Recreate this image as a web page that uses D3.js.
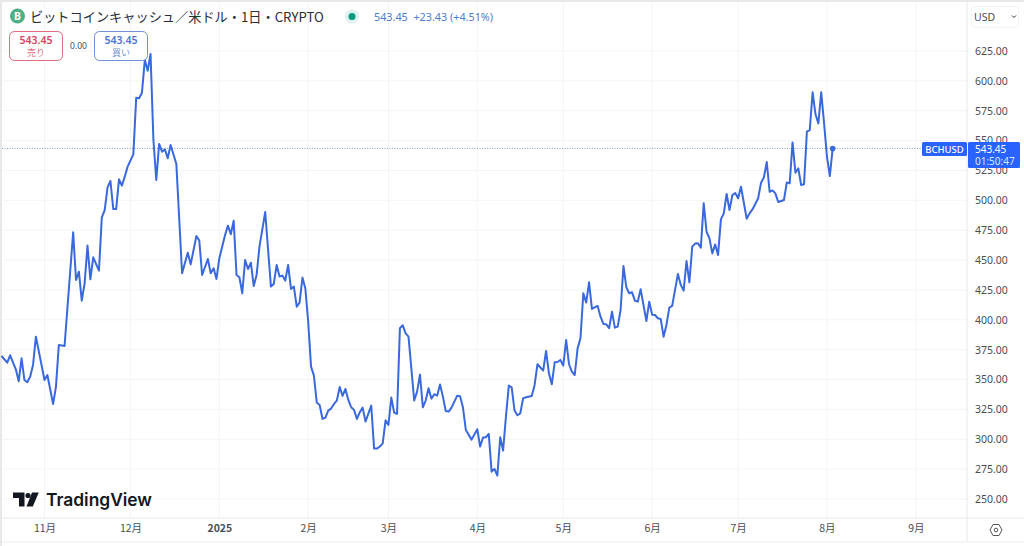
<!DOCTYPE html>
<html>
<head>
<meta charset="utf-8">
<script src="https://cdn.jsdelivr.net/npm/d3@7"></script>
<style>
	html, body { margin: 0; padding: 0; background: #fff; overflow: hidden; }
	svg { display: block; }
	text { font-family: "Noto Sans CJK JP", "Noto Sans", sans-serif; }
	.num { font-family: "Noto Sans", "Noto Sans CJK JP", sans-serif; }
</style>
</head>
<body>
<svg id="chart" width="1024" height="546"></svg>
<script>

// days counted from 2024-11-01, one entry for each turning point
var dayNumbers = [
	-15, -13, -12, -10, -9, -8, -7, -6, -5, -4, -3, 0, 1, 3, 4, 5, 7, 10, 11, 12, 13, 14, 15, 16, 17, 19,
	20, 21, 22, 23, 24, 25, 26, 27, 28, 29, 31, 32, 33, 34, 35, 36, 37, 38, 39, 40, 41, 42, 43, 44, 46,
	48, 50, 51, 53, 54, 55, 57, 58, 59, 60, 61, 63, 64, 65, 66, 67, 68, 69, 70, 71, 72, 73, 74, 75, 77,
	79, 80, 81, 82, 83, 84, 85, 86, 87, 88, 89, 90, 91, 92, 93, 94, 95, 96, 97, 98, 99, 100,
	101, 102, 103, 104, 105, 106, 107, 108, 109, 110, 111, 112, 114, 115, 116, 117, 118, 119, 120,
	121, 122, 123, 124, 125, 126, 127, 129, 130, 131, 132, 133, 134, 135, 136, 137, 138, 139, 140,
	141, 142, 144, 145, 146, 147, 149, 151, 152, 153, 154, 155, 156, 157, 158, 159, 160, 161, 162, 163,
	164, 165, 166, 167, 168, 170, 171, 172, 174, 175, 176, 177, 178, 179, 180, 181, 182, 183, 184, 185,
	186, 187, 188, 189, 190, 191, 192, 193, 194, 195, 196, 197, 198, 199, 200, 201, 202, 203, 204, 205,
	206, 207, 208, 210, 211, 212, 213, 214, 215, 216, 217, 218, 219, 221, 222, 223, 224, 225, 226, 227,
	228, 229, 230, 231, 232, 233, 234, 235, 236, 237, 238, 239, 240, 241, 242, 243, 245, 246, 247, 248,
	249, 250, 251, 252, 253, 254, 255, 256, 258, 259, 260, 261, 262, 263, 264, 265, 266, 267, 268, 269,
	270, 271, 272, 273, 274, 275
];

var prices = [
	369.7, 364.1, 370.3, 358.6, 348.5, 367.8, 349.6, 347.7, 352.4, 362.2, 385.9, 349.6, 353.8, 329.5, 344.1, 378.9, 378.1, 473.2, 433.3, 440.3, 416, 430.5, 462.1, 433.9, 452.3, 441.2,
	485.8, 491.9, 510.9, 516.2, 492.7, 492.7, 517.6, 512.3, 519.8, 528.2, 538.5, 585.9, 585.4, 590.1, 617.5, 608.5, 622.5, 550.5, 517, 547.2, 540.7, 542.7, 535.2, 546.3, 530.4,
	439, 456.2, 446.4, 470.2, 466.3, 437.5, 450.9, 438.9, 443.1, 434.2, 451.5, 471, 478.8, 471.6, 483, 437.5, 435.6, 422.2, 450.1, 442.5, 447.8, 428.3, 437.5, 461.2, 490.2,
	427.8, 430, 445.9, 436.2, 437, 432.8, 445.9, 425.8, 427.8, 411, 414.4, 435.3, 426.4, 398.5, 360.8, 353.3, 330.7, 328.7, 317, 318.1, 324, 325.7,
	329.6, 332.4, 343.8, 336.3, 342.1, 332.9, 326.8, 324.6, 317, 322.6, 326.5, 314.8, 328.2, 292.2, 292.2, 293.9, 296.6, 315.9, 312,
	334.9, 322.3, 321.2, 392.9, 395.4, 388.7, 385.9, 332.4, 339.9, 354.1, 326.8, 332.4, 342.7, 334, 337.7, 336.5, 345.8, 335.7, 323.7,
	323.2, 326.5, 336.5, 336, 326.5, 307.8, 299.7, 308.4, 293.9, 301.4, 301.7, 304.5, 272.9, 275.2, 269.6, 301.7, 290.5, 319, 344.9, 343.5,
	324, 320.1, 321.7, 334.3, 335.1, 336.2, 345.5, 362.8, 357.5, 373.9, 355.2, 346, 364.4, 364.7, 366.4, 361.6, 383.1, 362.8, 356.6, 353.8,
	376.1, 384.5, 422.2, 414.4, 431.4, 409.1, 410.5, 411.6, 402.6, 396.5, 396.2, 392.9, 406.8, 393.4, 394.3, 408.2, 445.1, 427.2, 422.2, 423,
	416, 415.2, 425.5, 399, 415.2, 404.3, 404, 401.3, 400.7, 385.9, 395.7, 410.2, 411.6, 438.4, 429.2, 424.4, 449.2, 431.4, 461.2, 463.8,
	464, 460.4, 497.5, 473.7, 468.2, 455.6, 463.1, 454.2, 484.1, 489.1, 505.3, 491.9, 504.4, 506.1, 501.7, 511.4, 484.6, 489.1, 492.4, 496.9,
	501.7, 514.8, 519.2, 532.1, 507.2, 508.3, 505.8, 498.6, 500.3, 515, 514.2, 548.5, 523.1, 526.8, 512.8, 513.4, 557.5, 558.8, 590.4, 572,
	564.4, 590.4, 564.4, 536.5, 520.3, 543.45
];

var monthDates = ['2024-11-01', '2024-12-01', '2025-01-01', '2025-02-01', '2025-03-01', '2025-04-01', '2025-05-01', '2025-06-01', '2025-07-01', '2025-08-01', '2025-09-01'];
var monthLabels = ['11月', '12月', '2025', '2月', '3月', '4月', '5月', '6月', '7月', '8月', '9月'];
var priceTicks = [250, 275, 300, 325, 350, 375, 400, 425, 450, 475, 500, 525, 550, 575, 600, 625];

var lastPrice = 543.45;
var titleText = 'ビットコインキャッシュ／米ドル・1日・CRYPTO';
var changeText = '543.45  +23.43 (+4.51%)';

var plotRight = 967, plotBottom = 518, axisBottom = 542;
var lineColor = '#3a69dd';
var gridColor = '#f3f4f6';
var borderColor = '#e6e8ec';
var textColor = '#4a4d55';

var svg = d3.select('#chart');
var parseDay = d3.utcParse('%Y-%m-%d');
var monthTicks = monthDates.map(parseDay);

var x = d3.scaleUtc().domain([monthTicks[0], monthTicks[10]]).range([44.5, 915.8]);
var y = d3.scaleLinear().domain([250, 625]).range([499, 51]);

function dayToDate(n) {
	return d3.utcDay.offset(monthTicks[0], n);
}

// outer page edge, the screenshot has a grey strip top and left
svg.append('rect').attr('width', 1024).attr('height', 2).attr('fill', '#e8e8e8');
svg.append('rect').attr('width', 2).attr('height', 546).attr('fill', '#e8e8e8');

// grid
svg.append('g').selectAll('line').data(monthTicks).join('line')
	.attr('x1', function(d) { return x(d); }).attr('x2', function(d) { return x(d); })
	.attr('y1', 2).attr('y2', plotBottom)
	.attr('stroke', gridColor);

svg.append('g').selectAll('line').data(priceTicks).join('line')
	.attr('x1', 2).attr('x2', plotRight)
	.attr('y1', function(d) { return y(d); }).attr('y2', function(d) { return y(d); })
	.attr('stroke', gridColor);

// last price dotted line
svg.append('line')
	.attr('x1', 2).attr('x2', plotRight)
	.attr('y1', y(lastPrice)).attr('y2', y(lastPrice))
	.attr('stroke', '#7f9bb5').attr('stroke-dasharray', '1,1.5');

// the price line
var line = d3.line()
	.x(function(d, i) { return x(dayToDate(d)); })
	.y(function(d, i) { return y(prices[i]); });

svg.append('path')
	.attr('d', line(dayNumbers))
	.attr('fill', 'none')
	.attr('stroke', lineColor)
	.attr('stroke-width', 2)
	.attr('stroke-linejoin', 'round');

svg.append('circle')
	.attr('cx', x(dayToDate(dayNumbers[dayNumbers.length - 1])))
	.attr('cy', y(lastPrice))
	.attr('r', 2.8)
	.attr('fill', lineColor);

// axes
var priceAxis = d3.axisRight(y)
	.tickValues(priceTicks)
	.tickSize(0)
	.tickPadding(8)
	.tickFormat(d3.format('.2f'));

var gPrice = svg.append('g').attr('transform', 'translate(' + plotRight + ',0)').call(priceAxis);
gPrice.select('.domain').remove();
gPrice.selectAll('text').attr('class', 'num').attr('fill', textColor).attr('font-size', 10.5);

var timeAxis = d3.axisBottom(x)
	.tickValues(monthTicks)
	.tickSize(0)
	.tickPadding(7)
	.tickFormat(function(d, i) { return monthLabels[i]; });

var gTime = svg.append('g').attr('transform', 'translate(0,' + plotBottom + ')').call(timeAxis);
gTime.select('.domain').remove();
gTime.selectAll('text')
	.attr('fill', textColor)
	.attr('font-size', 10.5)
	.attr('font-weight', function(d, i) { return monthLabels[i] === '2025' ? 700 : 400; });

// borders
svg.append('line').attr('x1', plotRight).attr('x2', plotRight).attr('y1', 2).attr('y2', axisBottom).attr('stroke', borderColor);
svg.append('line').attr('x1', 2).attr('x2', 1024).attr('y1', plotBottom).attr('y2', plotBottom).attr('stroke', borderColor);
svg.append('line').attr('x1', 2).attr('x2', 1024).attr('y1', axisBottom).attr('y2', axisBottom).attr('stroke', '#efefef');

// header
svg.append('circle').attr('cx', 17.5).attr('cy', 16).attr('r', 7.5).attr('fill', '#4fb083');
svg.append('text').attr('class', 'num').attr('x', 17.5).attr('y', 19.8).attr('text-anchor', 'middle')
	.attr('font-size', 10.5).attr('font-weight', 700).attr('fill', '#fff').text('B');
svg.append('text').attr('x', 30).attr('y', 21.5).attr('font-size', 13.2).attr('fill', '#2a2e39').text(titleText);
svg.append('circle').attr('cx', 352).attr('cy', 16.5).attr('r', 7).attr('fill', '#dff3ee');
svg.append('circle').attr('cx', 352).attr('cy', 16.5).attr('r', 3.5).attr('fill', '#089981');
svg.append('text').attr('class', 'num').attr('x', 374).attr('y', 20.5).attr('font-size', 10.8)
	.attr('fill', '#4f7cc9').attr('xml:space', 'preserve').text(changeText);

// sell / buy buttons
function priceButton(left, color, label) {
	svg.append('rect').attr('x', left + 0.5).attr('y', 31.5).attr('width', 53).attr('height', 29).attr('rx', 5)
		.attr('fill', '#fff').attr('stroke', color).attr('stroke-opacity', 0.8);
	svg.append('text').attr('class', 'num').attr('x', left + 27).attr('y', 44).attr('text-anchor', 'middle')
		.attr('font-size', 10.5).attr('font-weight', 600).attr('fill', color).text('543.45');
	svg.append('text').attr('x', left + 27).attr('y', 56).attr('text-anchor', 'middle')
		.attr('font-size', 9).attr('fill', color).attr('fill-opacity', 0.8).text(label);
}
priceButton(9, '#d9485f', '売り');
priceButton(94, '#4a76cf', '買い');
svg.append('text').attr('class', 'num').attr('x', 78.5).attr('y', 48.5).attr('text-anchor', 'middle')
	.attr('font-size', 8.5).attr('fill', textColor).text('0.00');

// USD button
svg.append('rect').attr('x', 971.5).attr('y', 6.5).attr('width', 47).attr('height', 21).attr('rx', 4)
	.attr('fill', '#fff').attr('stroke', '#f2f3f5');
svg.append('text').attr('class', 'num').attr('x', 974).attr('y', 21).attr('font-size', 10.5).attr('fill', textColor).text('USD');
svg.append('path').attr('d', 'M1012,15.5l2,2l2,-2').attr('fill', 'none').attr('stroke', '#333').attr('stroke-width', 1);

// price labels on the axis
svg.append('rect').attr('x', 922).attr('y', 142).attr('width', 45).attr('height', 14).attr('rx', 1.5).attr('fill', '#2962ff');
svg.append('text').attr('class', 'num').attr('x', 944.5).attr('y', 152.5).attr('text-anchor', 'middle')
	.attr('font-size', 9.5).attr('font-weight', 500).attr('fill', '#fff').text('BCHUSD');
svg.append('rect').attr('x', 968).attr('y', 142).attr('width', 52).attr('height', 26).attr('rx', 1.5).attr('fill', '#2962ff');
svg.append('text').attr('class', 'num').attr('x', 975).attr('y', 152.5).attr('font-size', 10).attr('fill', '#fff').text('543.45');
svg.append('text').attr('class', 'num').attr('x', 975).attr('y', 164.5).attr('font-size', 10).attr('fill', '#dbe5ff').text('01:50:47');

// logo
svg.append('path')
	.attr('d', 'M13,492.5h11.5v14h-5.5v-8.5h-6z M32,492.5h6.8l-6,14h-6.3z')
	.attr('fill', '#131722');
svg.append('circle').attr('cx', 28).attr('cy', 495.5).attr('r', 2.6).attr('fill', '#131722');
svg.append('text').attr('x', 46).attr('y', 506).attr('font-size', 17.4).attr('font-weight', 600)
	.style('font-family', 'Inter, sans-serif').attr('fill', '#131722').text('TradingView');

// settings icon
svg.append('path')
	.attr('d', 'M990,530l3,-5.5h6l3,5.5l-3,5.5h-6z')
	.attr('fill', 'none').attr('stroke', '#555').attr('stroke-width', 1);
svg.append('circle').attr('cx', 996).attr('cy', 530).attr('r', 1.8).attr('fill', 'none').attr('stroke', '#555');

</script>
</body>
</html>
